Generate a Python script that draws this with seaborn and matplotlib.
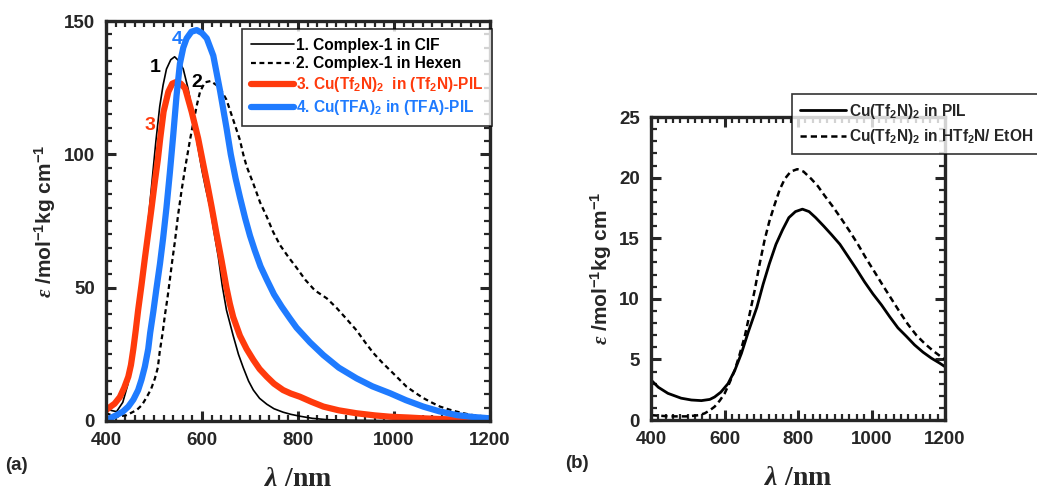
import matplotlib
matplotlib.use("Agg")
import matplotlib.pyplot as plt
import seaborn as sns
import numpy as np
import pandas as pd
from matplotlib.ticker import MultipleLocator

# ---------------- data ----------------
# Panel (a)
wl1 = [400, 410, 422, 435, 446, 456, 464, 472, 480, 488, 496, 504, 512, 519, 526, 535, 543,
       552, 561, 571, 580, 589, 600, 608, 617, 625, 634, 642, 651, 665, 676, 686, 697, 707,
       720, 735, 750, 769, 785, 804, 830, 860, 900, 1000, 1200]
eps1 = [5, 4, 3.5, 7, 14, 25, 35, 47, 60, 75, 90, 105, 118, 126, 132, 135.5, 136.6,
        135, 132, 124.7, 116, 105.4, 94, 87, 80, 71, 61.6, 51, 41.6, 32, 25, 20, 15, 11.6,
        8.5, 6.3, 4.6, 3.3, 2.5, 1.8, 1.0, 0.5, 0.3, 0.1, 0]

wl2 = [400, 420, 443, 464, 475, 485, 494, 502, 508, 512, 518, 523, 528, 533, 538, 544, 550,
       557.6, 565, 575, 582, 590, 596, 606, 618, 630, 640, 651, 665, 679, 686, 693, 707, 721,
       735, 748, 762.5, 780, 797, 815, 835, 860, 880, 900, 922, 940, 957, 975, 992, 1010,
       1026, 1045, 1061, 1080, 1096, 1115, 1131, 1150, 1165, 1185, 1200]
eps2 = [3, 1.5, 2.2, 4.1, 6, 9, 12, 16, 20, 26, 33, 40, 46, 52.9, 60, 67.9, 77,
        86.6, 95, 105.4, 112, 119, 123.5, 127, 127.5, 126, 124, 120.5, 113, 105.4, 100, 95.5, 89, 82,
        76.6, 71, 66, 61.5, 57.5, 53, 49, 46, 42.5, 38.5, 34, 29.5, 25.5, 22, 19, 15.8,
        12.9, 10.5, 8.6, 6.8, 5.4, 4.3, 3.5, 2.7, 2.2, 1.8, 1.5]

wl3 = [400, 405, 418, 429, 438, 446.5, 452, 457, 462, 467, 474, 481, 488, 495, 502, 508, 513,
       520, 530, 538, 547, 556, 565, 578.5, 592, 603, 612, 620, 630, 641, 651, 658, 665, 679,
       693, 707, 720, 735, 750, 769, 785, 804, 828, 853, 885, 922, 960, 992, 1030, 1061, 1100,
       1150, 1200]
eps3 = [4, 4.8, 6.5, 9, 12.5, 16.6, 21, 27, 34, 41.6, 51, 61, 70.5, 80, 90, 98, 106,
        116, 123.5, 126.5, 127.2, 126.5, 124.7, 116, 106, 96, 88, 80.4, 70.5, 60, 50, 44, 39, 32,
        27, 22.9, 19.5, 16.6, 14, 11.6, 10.3, 9.1, 7.2, 5.4, 4.0, 2.9, 2.1, 1.6, 1.3, 1.0, 0.7,
        0.5, 0.3]

wl4 = [400, 408, 422, 435, 446.5, 457, 467, 474, 481, 488, 492, 498.6, 505, 512.5, 519, 526,
       533, 540, 547, 554, 561, 568, 578, 589, 600, 610, 623.6, 637.5, 651, 660, 670, 679, 690,
       700, 710, 722, 735, 750, 766, 783, 797, 825, 853, 885, 922, 955, 992, 1025, 1061, 1095,
       1131, 1165, 1200]
eps4 = [0.5, 1, 2.2, 3.5, 5.4, 8, 11.6, 15.5, 20.4, 27, 33, 41, 49.5, 59, 68.5, 80,
        93, 107, 122, 134, 140, 143.5, 146, 146.6, 145.5, 143.5, 137, 124, 110, 100, 91, 84, 76,
        69.5, 64, 58, 53, 47.5, 42.9, 38.5, 35, 29.5, 24.7, 20, 16, 13, 10.4, 7.8, 5.4, 3.6,
        2.2, 1.5, 1.0]

# Panel (b)
wlb1 = [400, 420, 446, 482, 510, 537, 560, 573, 590, 609.5, 628, 646, 665, 688, 705, 722, 740,
        758, 775, 793, 812, 830, 848, 870, 891, 914, 936, 958, 981, 1004, 1027, 1050, 1072,
        1095, 1117, 1140, 1163, 1185, 1200]
epsb1 = [3.3, 2.7, 2.2, 1.8, 1.65, 1.6, 1.7, 1.9, 2.3, 3.0, 4.1, 5.5, 7.3, 9.3, 11.2, 12.9, 14.5,
         15.7, 16.7, 17.2, 17.4, 17.2, 16.7, 16.0, 15.3, 14.5, 13.5, 12.5, 11.4, 10.4, 9.5, 8.5,
         7.6, 6.9, 6.2, 5.6, 5.1, 4.7, 4.4]

wlb2 = [400, 450, 500, 530, 546, 560, 573, 587, 600.5, 614, 627.7, 641, 655, 668, 682, 695, 709,
        722, 736.6, 750, 764, 780, 798, 815, 836, 854, 872.7, 895, 918, 940, 963, 986, 1008.7,
        1031, 1054, 1077, 1099, 1122, 1145, 1168, 1190, 1200]
epsb2 = [0.4, 0.3, 0.3, 0.4, 0.55, 0.8, 1.1, 1.6, 2.2, 3.1, 4.1, 5.4, 6.9, 8.7, 10.7, 12.8, 14.85,
         16.4, 17.8, 19.0, 19.9, 20.5, 20.7, 20.5, 19.9, 19.3, 18.5, 17.6, 16.6, 15.6, 14.5, 13.3,
         12.2, 11.1, 10.0, 8.9, 7.9, 7.0, 6.3, 5.7, 5.2, 5.0]

labels_a = ["1. Complex-1 in CIF", "2. Complex-1 in Hexen",
            r"3. Cu(Tf$_\mathsf{2}$N)$_\mathsf{2}$  in (Tf$_\mathsf{2}$N)-PIL",
            r"4. Cu(TFA)$_\mathsf{2}$ in (TFA)-PIL"]
labels_b = [r"Cu(Tf$_\mathsf{2}$N)$_\mathsf{2}$ in PIL",
            r"Cu(Tf$_\mathsf{2}$N)$_\mathsf{2}$ in HTf$_\mathsf{2}$N/ EtOH"]
xticks = [400, 600, 800, 1000, 1200]
yticks_a = [0, 50, 100, 150]
yticks_b = [0, 5, 10, 15, 20, 25]

RED = "#FF3A0C"
BLUE = "#1F7BFF"

# ---------------- style ----------------
sns.set_style("ticks")
plt.rcParams["font.family"] = ["Liberation Sans", "DejaVu Sans"]
plt.rcParams["font.weight"] = "bold"
plt.rcParams["mathtext.fontset"] = "custom"
plt.rcParams["mathtext.rm"] = "Liberation Serif:bold"
plt.rcParams["mathtext.it"] = "Liberation Serif:italic"
plt.rcParams["mathtext.sf"] = "Liberation Sans:bold"
plt.rcParams["mathtext.bf"] = "Liberation Sans:bold"
plt.rcParams["lines.solid_joinstyle"] = "round"

fig = plt.figure(figsize=(10.37, 4.95), dpi=100)
ax1 = fig.add_axes([0.1022, 0.1495, 0.3703, 0.808])
ax2 = fig.add_axes([0.6278, 0.1515, 0.2835, 0.612])

def df(x, y):
    return pd.DataFrame({"x": x, "y": y})

sns.lineplot(data=df(wl1, eps1), x="x", y="y", ax=ax1, color="black", lw=1.2,
             label=labels_a[0], sort=False)
sns.lineplot(data=df(wl2, eps2), x="x", y="y", ax=ax1, color="black", lw=1.6,
             label=labels_a[1], sort=False)
ax1.lines[-1].set_dashes([2.2, 1.6])
sns.lineplot(data=df(wl3, eps3), x="x", y="y", ax=ax1, color=RED, lw=4.5,
             label=labels_a[2], sort=False)
sns.lineplot(data=df(wl4, eps4), x="x", y="y", ax=ax1, color=BLUE, lw=4.5,
             label=labels_a[3], sort=False)

sns.lineplot(data=df(wlb1, epsb1), x="x", y="y", ax=ax2, color="black", lw=2.0,
             label=labels_b[0], sort=False)
sns.lineplot(data=df(wlb2, epsb2), x="x", y="y", ax=ax2, color="black", lw=1.8,
             label=labels_b[1], sort=False)
ax2.lines[-1].set_dashes([2.5, 1.6])

for ax, yt, ymax, ymin_step in [(ax1, yticks_a, 150, 5), (ax2, yticks_b, 25, 1)]:
    ax.set_xlim(400, 1200)
    ax.set_ylim(0, ymax)
    ax.set_xticks(xticks)
    ax.set_yticks(yt)
    ax.xaxis.set_minor_locator(MultipleLocator(20))
    ax.yaxis.set_minor_locator(MultipleLocator(ymin_step))
    ax.tick_params(which="both", direction="in", top=True, right=True, labelsize=13.5)
    ax.tick_params(which="major", length=7, width=2.2, pad=8)
    ax.tick_params(which="minor", length=4, width=1.6)
    for t in ax.get_xticklabels() + ax.get_yticklabels():
        t.set_fontweight("bold")
    for s in ax.spines.values():
        s.set_linewidth(2.4)
        s.set_visible(True)
    ax.set_xlabel(r"$\lambda\ \mathrm{/nm}$", fontsize=20, labelpad=12)
    ax.set_ylabel(r"$\varepsilon$ /mol$^{\mathsf{-1}}$kg cm$^{\mathsf{-1}}$", fontsize=15,
                  fontweight="bold", labelpad=4)

# legend (a)
leg1 = ax1.legend(loc="upper right", bbox_to_anchor=(492 / 1037, 1 - 29 / 495),
                  bbox_transform=fig.transFigure, borderaxespad=0, frameon=True,
                  fancybox=False, edgecolor="black", fontsize=11.2, handlelength=2.75,
                  handletextpad=0.15, borderpad=0.55, labelspacing=0.25)
leg1.get_frame().set_linewidth(1.2)
for txt, col in zip(leg1.get_texts(), ["black", "black", RED, BLUE]):
    txt.set_color(col)
    txt.set_fontweight("bold")

# legend (b) - its box runs to the figure edge, as in the reference
leg2 = ax2.legend(loc="upper left", bbox_to_anchor=(792 / 1037, 1 - 94 / 495),
                  bbox_transform=fig.transFigure, borderaxespad=0, frameon=True,
                  fancybox=False, edgecolor="black", fontsize=11.2, handlelength=3.0,
                  handletextpad=0.15, borderpad=0.5, labelspacing=0.4)
leg2.get_frame().set_linewidth(1.2)
for txt in leg2.get_texts():
    txt.set_fontweight("bold")

# curve numbers
ax1.text(502, 132.4, "1", color="black", fontsize=14, fontweight="bold", ha="center", va="center")
ax1.text(590, 127, "2", color="black", fontsize=14, fontweight="bold", ha="center", va="center")
ax1.text(491.7, 111, "3", color=RED, fontsize=14, fontweight="bold", ha="center", va="center")
ax1.text(548, 142.9, "4", color=BLUE, fontsize=14, fontweight="bold", ha="center", va="center")

fig.text(5 / 1037, 1 - 465 / 495, "(a)", fontsize=13.5, fontweight="bold", ha="left", va="center")
fig.text(565 / 1037, 1 - 463 / 495, "(b)", fontsize=13.5, fontweight="bold", ha="left", va="center")

fig.savefig("out.png", dpi=100)
